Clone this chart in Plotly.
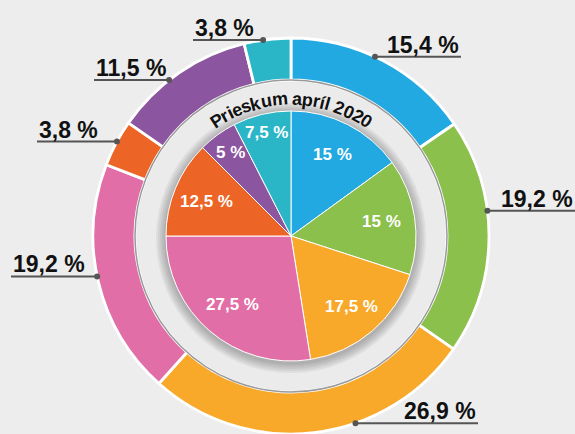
import math
import plotly.graph_objects as go

# ---------------- data ----------------
categories = ["Kategória 1", "Kategória 2", "Kategória 3", "Kategória 4",
              "Kategória 5", "Kategória 6", "Kategória 7"]
outer_values = [15.4, 19.2, 26.9, 19.2, 3.8, 11.5, 3.8]
inner_values = [15, 15, 17.5, 27.5, 12.5, 5, 7.5]
ring_title = "Prieskum apríl 2020"

# ---------------- style / layout ----------------
W, H = 575, 434
CX, CY = 291, 236
R_OUT, R_HOLE, R_IN = 198, 156, 125
colors = ["#22a9e1", "#8bc04c", "#f8a92a", "#e16ea7", "#ec6526", "#8c559f", "#2bb6c8"]
BG = "#ededed"

# outer label placement (dot angle clockwise from 12 o'clock, line end x)
dot_angles = [25.1, 82.7, 161, 258.2, 298.5, 322, 351.9]
line_end_x = [461, 575, 478, 11, 37, 94, 193]
inner_label_rf = [0.73, 0.73, 0.74, 0.72, 0.73, 0.83, 0.85]


def fmt(v):
    s = f"{v:.1f}".replace(".", ",")
    if s.endswith(",0"):
        s = s[:-2]
    return s + " %"


def px(x):
    return x / W


def py(y):
    return 1 - y / H


def polar(r, ang):
    a = math.radians(ang)
    return CX + r * math.sin(a), CY - r * math.cos(a)


def dom(r):
    return dict(x=[px(CX - r), px(CX + r)], y=[py(CY + r), py(CY - r)])


fig = go.Figure()
fig.add_trace(go.Pie(
    labels=categories, values=outer_values, hole=R_HOLE / R_OUT, sort=False,
    direction="clockwise", rotation=0, textinfo="none", hoverinfo="label+value",
    marker=dict(colors=colors, line=dict(color="white", width=2.8)),
    domain=dom(R_OUT), showlegend=False))
fig.add_trace(go.Pie(
    labels=categories, values=inner_values, sort=False,
    direction="clockwise", rotation=0, textinfo="none", hoverinfo="label+value",
    marker=dict(colors=colors, line=dict(color="white", width=1)),
    domain=dom(R_IN), showlegend=False))

shapes = []
# gray ring fill
shapes.append(dict(type="circle", xref="paper", yref="paper", layer="below",
                   x0=px(CX - R_HOLE), x1=px(CX + R_HOLE), y0=py(CY + R_HOLE), y1=py(CY - R_HOLE),
                   fillcolor="#ebebeb", line=dict(width=0)))
# soft shadow around inner pie
for k in [10, 8, 6, 4, 2]:
    r = R_IN + k
    shapes.append(dict(type="circle", xref="paper", yref="paper", layer="below",
                       x0=px(CX - r), x1=px(CX + r), y0=py(CY + 2 + r), y1=py(CY + 2 - r),
                       fillcolor="rgba(0,0,0,0.055)", line=dict(width=0)))
# ring outline
shapes.append(dict(type="circle", xref="paper", yref="paper", layer="above",
                   x0=px(CX - R_HOLE), x1=px(CX + R_HOLE), y0=py(CY + R_HOLE), y1=py(CY - R_HOLE),
                   fillcolor="rgba(0,0,0,0)", line=dict(color="#9a9a9a", width=1.5)))

annotations = []
# outer labels with leader lines
for i, v in enumerate(outer_values):
    dx, dy = polar(R_OUT, dot_angles[i])
    ex = line_end_x[i]
    right = ex > dx
    shapes.append(dict(type="line", xref="paper", yref="paper", layer="above",
                       x0=px(dx), x1=px(ex), y0=py(dy), y1=py(dy),
                       line=dict(color="#555555", width=2)))
    shapes.append(dict(type="circle", xref="paper", yref="paper", layer="above",
                       x0=px(dx - 3), x1=px(dx + 3), y0=py(dy + 3), y1=py(dy - 3),
                       fillcolor="#555555", line=dict(width=0)))
    annotations.append(dict(xref="paper", yref="paper", x=px(ex), y=py(dy - 12),
                            xanchor="right" if right else "left", yanchor="middle",
                            text=fmt(v), showarrow=False,
                            font=dict(family="Liberation Sans, Arial, sans-serif", size=23,
                                      color="#111111", weight="bold")))

# inner labels
total = sum(inner_values)
cum = 0
for i, v in enumerate(inner_values):
    mid = (cum + v / 2) / total * 360
    cum += v
    x, y = polar(R_IN * inner_label_rf[i], mid)
    annotations.append(dict(xref="paper", yref="paper", x=px(x), y=py(y),
                            xanchor="center", yanchor="middle", text=fmt(v), showarrow=False,
                            font=dict(family="Liberation Sans, Arial, sans-serif", size=17,
                                      color="white", weight="bold")))

# curved ring title
widths = {"P": 667, "r": 389, "i": 278, "e": 556, "s": 556, "k": 556, "u": 611, "m": 889,
          " ": 278, "a": 556, "p": 611, "í": 278, "l": 278, "2": 556, "0": 556}
FS = 18
R_TXT = 137
ws = [widths.get(c, 556) / 1000 * FS for c in ring_title]
tot = sum(ws)
acc = 0
for c, w in zip(ring_title, ws):
    centre = acc + w / 2 - tot / 2
    acc += w
    if c == " ":
        continue
    ang = math.degrees(centre / R_TXT)
    x, y = polar(R_TXT, ang)
    annotations.append(dict(xref="paper", yref="paper", x=px(x), y=py(y),
                            xanchor="center", yanchor="middle", text=c, showarrow=False,
                            textangle=ang,
                            font=dict(family="Liberation Sans, Arial, sans-serif", size=FS,
                                      color="#111111", weight="bold")))

fig.update_layout(width=W, height=H, margin=dict(l=0, r=0, t=0, b=0),
                  paper_bgcolor=BG, plot_bgcolor=BG,
                  shapes=shapes, annotations=annotations, showlegend=False)

fig.write_html("out.html", config={"displayModeBar": False},
               post_script="document.body.style.margin='0';document.body.style.overflow='hidden';"
                           "document.body.style.background='%s';" % BG)
